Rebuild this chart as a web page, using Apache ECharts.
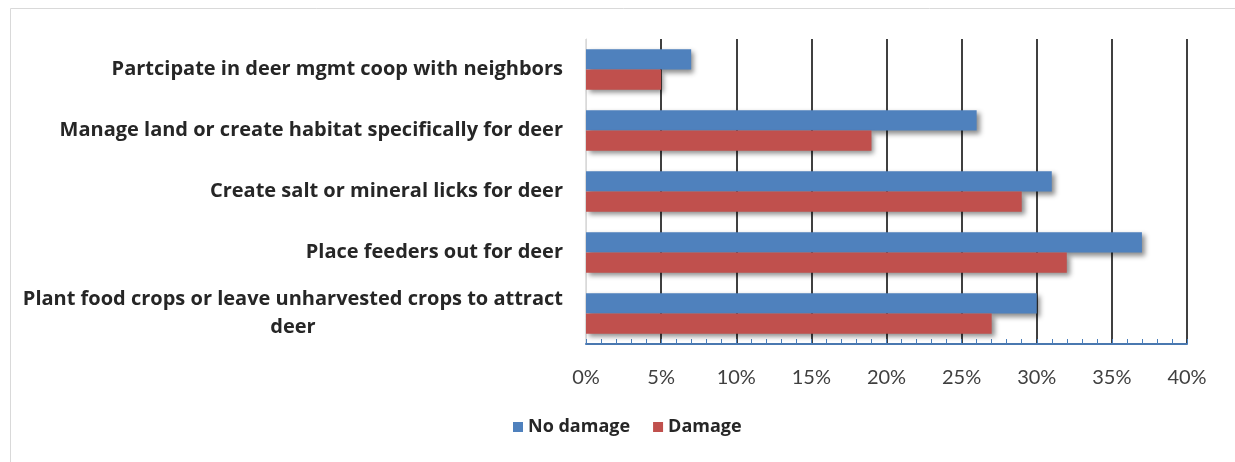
<!DOCTYPE html>
<html>
<head>
<meta charset="utf-8">
<script src="https://cdn.jsdelivr.net/npm/echarts@6/dist/echarts.min.js"></script>
<style>
  html, body { margin: 0; padding: 0; background: #fff; }
  #chart { width: 1235px; height: 462px; }
</style>
</head>
<body>
<div id="chart"></div>
<script>
// Deer-related land practices, share of respondents by damage status
const categories = [
  'Partcipate in deer mgmt coop with neighbors',
  'Manage land or create habitat specifically for deer',
  'Create salt or mineral licks for deer',
  'Place feeders out for deer',
  'Plant food crops or leave unharvested crops to attract\ndeer'
];
const noDamage = [7, 26, 31, 37, 30];
const damage = [5, 19, 29, 32, 27];
const seriesNames = ['No damage', 'Damage'];
const xTicks = [0, 5, 10, 15, 20, 25, 30, 35, 40];

const BOLD_FONT = '"Open Sans", "Liberation Sans", sans-serif';
const TICK_FONT = 'Lato, "Liberation Sans", sans-serif';
const chart = echarts.init(document.getElementById('chart'));

// gridline colours: light first line (at 0), black for the rest
const splitColors = xTicks.map((t, i) => i === 0 ? '#d9d9d9' : '#000000');

const barShadow = {
  shadowColor: 'rgba(0,0,0,0.45)',
  shadowBlur: 5,
  shadowOffsetX: 3,
  shadowOffsetY: 3
};

chart.setOption({
  animation: false,
  graphic: [{
    type: 'rect',
    shape: { x: 10.5, y: 8.5, width: 1260, height: 480 },
    style: { fill: 'none', stroke: '#d9d9d9', lineWidth: 1 },
    silent: true,
    z: -1
  }],
  grid: { left: 586, right: 48, top: 39, bottom: 118, containLabel: false },
  legend: {
    data: seriesNames,
    bottom: 21,
    left: 508,
    itemWidth: 10,
    itemHeight: 10,
    itemGap: 23,
    icon: 'rect',
    textStyle: { fontFamily: BOLD_FONT, fontWeight: 'bold', fontSize: 18, color: '#262626' }
  },
  xAxis: {
    type: 'value',
    min: 0,
    max: 40,
    interval: 5,
    axisLine: { show: true, lineStyle: { color: '#4a78b0', width: 2 } },
    axisTick: { show: true, inside: true, length: 5, lineStyle: { color: '#4a7ebb', width: 1 } },
    minorTick: { show: true, splitNumber: 5, length: 5, lineStyle: { color: '#4a7ebb', width: 1 } },
    splitLine: { show: true, lineStyle: { color: splitColors, width: 1.5 } },
    axisLabel: {
      formatter: v => v + '%',
      fontFamily: TICK_FONT,
      fontSize: 20,
      color: '#404040',
      margin: 24
    }
  },
  yAxis: {
    type: 'category',
    data: categories,
    inverse: true,
    axisLine: { show: true, lineStyle: { color: '#d9d9d9', width: 1 } },
    axisTick: { show: false },
    axisLabel: {
      margin: 23,
      fontFamily: BOLD_FONT,
      fontWeight: 'bold',
      fontSize: 20,
      color: '#262626',
      lineHeight: 28,
      formatter: v => v.split('\n').map(s => '{c|' + s + '}').join('\n'),
      rich: {
        c: { fontFamily: BOLD_FONT, fontWeight: 'bold', fontSize: 20, color: '#262626', align: 'center', lineHeight: 28 }
      }
    }
  },
  series: [
    {
      name: seriesNames[0],
      type: 'bar',
      data: noDamage,
      barGap: '0%',
      barCategoryGap: '34%',
      itemStyle: Object.assign({ color: '#4f81bd' }, barShadow),
      z: 3
    },
    {
      name: seriesNames[1],
      type: 'bar',
      data: damage,
      itemStyle: Object.assign({ color: '#c0504d' }, barShadow),
      z: 3
    }
  ]
});
</script>
</body>
</html>
